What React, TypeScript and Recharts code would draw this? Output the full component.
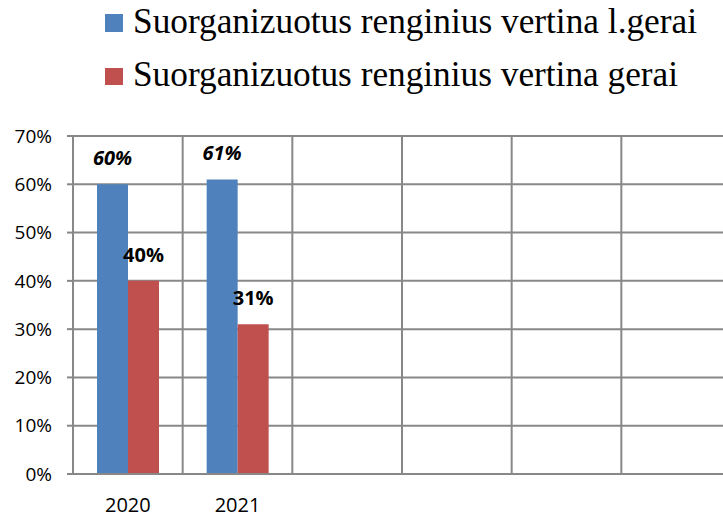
import React from "react";
import { BarChart, Bar, XAxis, YAxis, CartesianGrid, LabelList, Customized } from "recharts";

const categories = ["2020", "2021", "", "", "", ""];
const seriesNames = [
  "Suorganizuotus renginius vertina l.gerai",
  "Suorganizuotus renginius vertina gerai",
];
const veryGood = [60, 61, null, null, null, null];
const good = [40, 31, null, null, null, null];
const yTicks = [0, 10, 20, 30, 40, 50, 60, 70];

const BLUE = "#4F81BD";
const RED = "#C0504D";
const GRID = "#888888";

const data = categories.map((c, i) => ({ idx: i, cat: c, a: veryGood[i], b: good[i] }));

const LegendSvg = () => (
  <g>
    <rect x={105} y={14} width={18} height={18} fill={BLUE} />
    <text x={133} y={33} fontFamily="Liberation Serif" fontSize={35} fill="#000" textLength={564} lengthAdjust="spacingAndGlyphs">
      {seriesNames[0]}
    </text>
    <rect x={105} y={68} width={18} height={17} fill={RED} />
    <text x={133} y={86} fontFamily="Liberation Serif" fontSize={35} fill="#000" textLength={545} lengthAdjust="spacingAndGlyphs">
      {seriesNames[1]}
    </text>
  </g>
);

const fmt = (v: any) => (v == null ? "" : `${v}%`);

// vertical grid lines on the category boundaries, from the x axis band scale
const boundaryLines = (props: any) => {
  const axis = props && props.xAxis;
  const s = axis && axis.scale;
  if (!s) return [];
  const apply = (v: any) => (typeof s === "function" ? s(v) : s.map ? s.map(v) : undefined);
  const bw = typeof s.bandwidth === "function" ? s.bandwidth() : 0;
  const pts: number[] = categories.map((_, i) => apply(i));
  pts.push(apply(categories.length - 1) + bw);
  return pts.filter((p) => typeof p === "number" && !isNaN(p));
};

export default function App() {
  return (
    <div style={{ position: "absolute", left: 0, top: 0, width: 723, height: 517, overflow: "hidden", background: "#fff" }}>
      <BarChart
        width={740}
        height={517}
        data={data}
        margin={{ top: 136, right: 9, left: 0, bottom: 0 }}
        barSize={31}
        barGap={0}
      >
        <CartesianGrid stroke={GRID} strokeWidth={2} verticalCoordinatesGenerator={boundaryLines} />
        <XAxis
          dataKey="idx"
          type="category"
          height={43}
          tickFormatter={(v: any) => categories[v]}
          axisLine={{ stroke: GRID, strokeWidth: 2 }}
          tickLine={false}
          tickSize={0}
          tickMargin={24}
          tick={{ fill: "#000", fontSize: 20, fontFamily: "Open Sans" }}
          interval={0}
        />
        <YAxis
          width={73}
          domain={[0, 70]}
          ticks={yTicks}
          tickFormatter={(v: any) => `${v}%`}
          axisLine={{ stroke: GRID, strokeWidth: 2 }}
          tickLine={{ stroke: GRID, strokeWidth: 2 }}
          tickSize={6}
          tickMargin={15}
          tick={{ fill: "#000", fontSize: 19, fontFamily: "Open Sans" }}
          interval={0}
        />
        <Bar dataKey="a" name={seriesNames[0]} fill={BLUE} isAnimationActive={false}>
          <LabelList dataKey="a" position="top" offset={19} formatter={fmt} fill="#000" fontSize={20} fontWeight="bold" fontStyle="italic" fontFamily="Open Sans" />
        </Bar>
        <Bar dataKey="b" name={seriesNames[1]} fill={RED} isAnimationActive={false}>
          <LabelList dataKey="b" position="top" offset={19} formatter={fmt} fill="#000" fontSize={20} fontWeight="bold" fontFamily="Open Sans" />
        </Bar>
        <Customized component={LegendSvg} />
      </BarChart>
    </div>
  );
}
